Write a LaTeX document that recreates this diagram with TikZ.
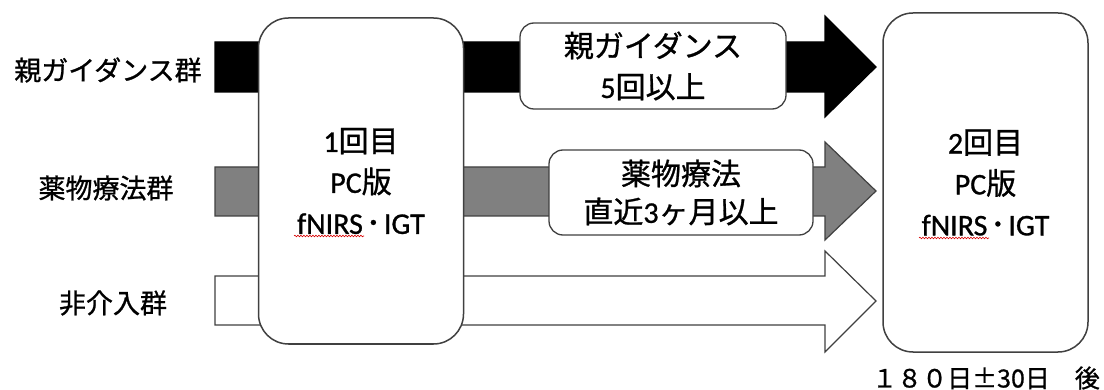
\documentclass[tikz,border=0pt]{standalone}
\usepackage{fontspec}
\setmainfont{Noto Sans CJK JP}[FakeBold=0.9]
\newfontfamily\lat{Carlito}[FakeBold=0.9]
\usetikzlibrary{decorations.pathmorphing}
\newcommand{\ndot}{\kern3pt･\kern3pt}
\begin{document}
\begin{tikzpicture}[x=1pt,y=-1pt,
  bar/.style={draw=black!75, line width=1.2pt, line join=miter},
  roundbox/.style={draw=black!75, line width=1.5pt, fill=white, rounded corners=30pt, inner sep=0pt},
  smallbox/.style={draw=black!75, line width=1.3pt, fill=white, rounded corners=14pt, inner sep=0pt},
  grouplabel/.style={font=\fontsize{27}{30}\selectfont, inner sep=0pt},
  boxtext/.style={font=\fontsize{30}{41}\selectfont, align=center},
  spell/.style={draw=red!85!black, line width=0.6pt, decorate, decoration={snake, amplitude=0.8pt, segment length=3pt}}
]
\fill[white] (0,0) rectangle (1104,390);
\useasboundingbox (0,0) rectangle (1104,390);

% group arrows
\draw[bar, fill=black, draw=black] (215,42) -- (825,42) -- (825,16) -- (876,67) -- (825,117) -- (825,92) -- (215,92) -- cycle;
\draw[bar, fill=black!50] (215,167) -- (825,167) -- (825,142) -- (876,191) -- (825,240) -- (825,216) -- (215,216) -- cycle;
\draw[bar, fill=white] (215,276) -- (825,276) -- (825,251) -- (876,301) -- (825,352) -- (825,325) -- (215,325) -- cycle;

% group labels
\node[grouplabel] (g1) at (108,70) {親ガイダンス群};
\node[grouplabel] (g2) at (106,188) {薬物療法群};
\node[grouplabel] (g3) at (113,303) {非介入群};

% measurement boxes
\node[roundbox, boxtext, minimum width=205pt, minimum height=326pt] (t1) at (361,181)
  {{\lat 1}回目\\{\lat PC}版\\{\lat fNIRS}\ndot{\lat IGT}};
\node[roundbox, boxtext, minimum width=205pt, minimum height=339pt] (t2) at (985.5,182.5)
  {{\lat 2}回目\\{\lat PC}版\\{\lat fNIRS}\ndot{\lat IGT}};

% intervention boxes
\node[smallbox, boxtext, minimum width=266pt, minimum height=86pt] (i1) at (653,66)
  {親ガイダンス\\{\lat 5}回以上};
\node[smallbox, boxtext, minimum width=264pt, minimum height=85pt, font=\fontsize{30}{38}\selectfont] (i2) at (681,192.5)
  {薬物療法\\直近{\lat 3}ヶ月以上};

% spell-check underlines
\draw[spell] (294,236) -- (364,236);
\draw[spell] (919,238) -- (989,238);

% timing note
\node[font=\fontsize{25}{28}\selectfont, inner sep=0pt] (note) at (986,378) {１８０日±30日　後};
\end{tikzpicture}
\end{document}
